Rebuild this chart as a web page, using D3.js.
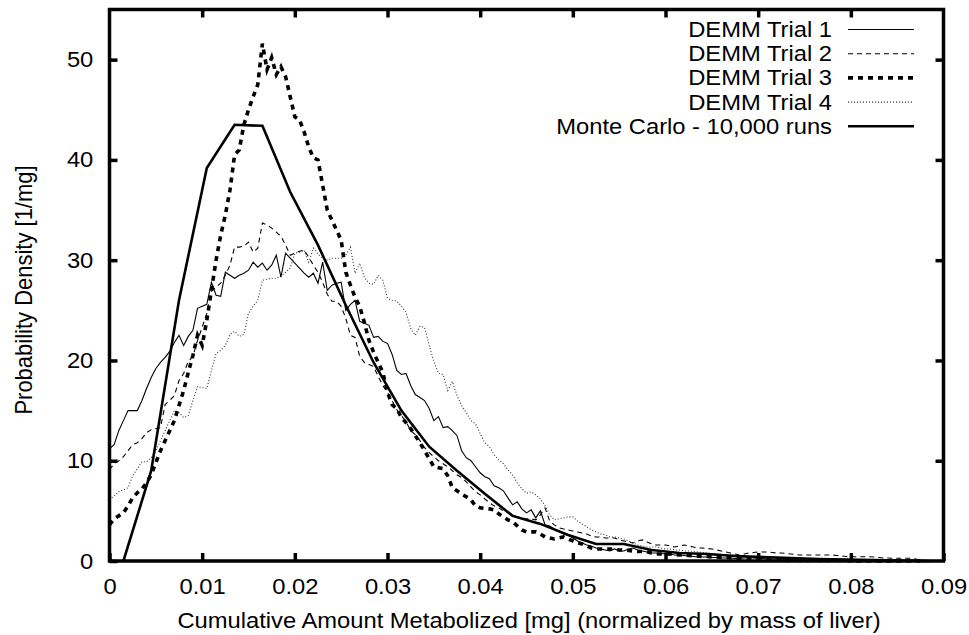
<!DOCTYPE html>
<html>
<head>
<meta charset="utf-8">
<script src="https://cdn.jsdelivr.net/npm/d3@7"></script>
<style>
  body { margin: 0; background: #fff; }
  svg { display: block; }
  text { font-family: "Liberation Sans", Arial, Helvetica, sans-serif; fill: #000; }
</style>
</head>
<body>
<div id="vis"></div>
<script>

// bins of the DEMM histograms, every 0.0005 mg from 0 to 0.0875
var binStep = 0.0005;

var trial1 = [
  11.2, 11.6, 13.0, 14.0, 15.0, 15.0, 15.0, 16.0, 17.2, 18.3,
  19.2, 19.8, 20.3, 20.9, 21.8, 22.5, 21.5, 22.4, 23.0, 25.2,
  25.4, 25.6, 27.8, 26.5, 26.4, 28.8, 28.5, 28.2, 28.5, 28.7,
  29.0, 29.8, 29.3, 29.7, 29.0, 29.5, 30.5, 28.3, 30.7, 30.2,
  29.7, 29.2, 28.7, 28.3, 28.7, 27.7, 29.8, 27.0, 27.5, 27.7,
  27.8, 25.0, 25.6, 26.0, 23.9, 23.7, 23.5, 22.3, 22.4, 21.9,
  21.7, 20.6, 19.0, 18.6, 18.7, 17.5, 16.6, 16.3, 16.0, 15.2,
  14.0, 14.4, 13.3, 13.4, 13.0, 12.5, 11.0, 10.3, 10.0, 9.4,
  8.8, 8.4, 8.2, 7.5, 7.3, 7.0, 6.3, 5.6, 5.9, 5.2,
  4.8, 5.1, 4.3, 5.0, 3.6, 3.5, 3.2, 3.0, 2.7, 2.6,
  2.3, 2.0, 1.8, 1.6, 1.5, 1.3, 1.2, 1.1, 1.0, 1.2,
  1.0, 1.0, 1.2, 1.3, 1.1, 1.0, 0.9, 0.8, 0.8, 0.75,
  0.7, 0.7, 0.6, 0.6, 0.55, 0.5, 0.45, 0.4, 0.4, 0.4,
  0.35, 0.35, 0.3, 0.3, 0.3, 0.25, 0.25, 0.3, 0.35, 0.3,
  0.25, 0.25, 0.2, 0.2, 0.2, 0.2, 0.15, 0.15, 0.15, 0.15,
  0.1, 0.1, 0.1, 0.1, 0.1, 0.1, 0.1, 0.1, 0.05, 0.05,
  0.05, 0.05, 0.05, 0.05, 0.05, 0.05, 0.05, 0.05, 0.05, 0.05,
  0, 0, 0, 0, 0, 0
];

var trial2 = [
  9.1, 9.7, 10.0, 10.4, 11.0, 11.6, 11.8, 12.2, 12.8, 13.1,
  13.2, 13.3, 15.6, 16.0, 16.5, 18.0, 18.7, 19.9, 20.4, 22.0,
  23.3, 24.7, 26.9, 27.3, 27.7, 28.5, 29.5, 31.3, 31.3, 31.4,
  31.8, 30.8, 31.2, 33.7, 33.5, 33.2, 32.8, 32.4, 31.5, 30.5,
  30.7, 30.9, 31.0, 30.3, 29.5, 28.8, 27.8, 26.6, 25.9, 25.9,
  25.4, 24.2, 22.5, 22.3, 20.4, 19.8, 19.6, 19.4, 18.4, 17.5,
  16.8, 16.0, 15.1, 14.5, 13.9, 13.0, 12.6, 12.0, 11.3, 10.8,
  10.4, 10.0, 9.7, 9.4, 9.0, 8.6, 8.3, 7.9, 7.4, 6.9,
  6.6, 6.2, 5.8, 5.5, 5.3, 5.0, 4.8, 4.6, 4.4, 4.3,
  4.2, 4.2, 4.1, 4.6, 5.3, 4.0, 3.6, 3.3, 3.2, 3.1,
  3.0, 2.9, 2.8, 2.7, 2.5, 2.4, 2.4, 2.3, 2.3, 2.3,
  2.1, 2.0, 1.9, 1.8, 2.0, 2.1, 1.9, 1.7, 1.6, 1.6,
  1.6, 1.5, 1.4, 1.5, 1.6, 1.5, 1.4, 1.3, 1.3, 1.25,
  1.2, 1.1, 1.0, 0.9, 0.8, 0.7, 0.6, 0.7, 0.8, 0.85,
  0.9, 0.9, 0.9, 0.85, 0.8, 0.8, 0.75, 0.7, 0.65, 0.6,
  0.6, 0.6, 0.6, 0.6, 0.6, 0.6, 0.6, 0.55, 0.5, 0.45,
  0.43, 0.43, 0.43, 0.43, 0.43, 0.4, 0.35, 0.3, 0.3, 0.27,
  0.27, 0.27, 0.27, 0.27, 0.2, 0.1
];

var trial3 = [
  3.6, 4.2, 4.5, 4.8, 5.5, 6.3, 6.8, 7.2, 7.8, 8.6,
  9.8, 11.0, 12.0, 13.0, 14.0, 15.5, 17.0, 18.8, 20.5, 22.5,
  21.5, 24.0, 27.0, 30.0, 32.5, 34.5, 37.0, 40.5, 41.0, 43.5,
  45.0, 46.3, 47.5, 51.6, 49.0, 50.2, 48.5, 49.3, 48.3, 46.3,
  44.3, 44.0, 42.8, 41.3, 40.2, 40.0, 37.5, 35.0, 34.0, 33.0,
  32.0, 28.8, 27.5, 26.3, 25.4, 23.8, 22.0, 20.8, 19.8, 18.8,
  16.8, 15.6, 15.2, 14.3, 13.8, 13.2, 12.5, 11.8, 11.0, 10.2,
  9.4, 9.3, 9.2, 8.5, 7.3, 7.0, 6.7, 6.4, 6.1, 5.5,
  5.3, 5.25, 5.2, 5.1, 4.7, 4.4, 4.1, 3.9, 3.5, 3.1,
  2.9, 2.9, 2.9, 2.7, 2.4, 2.3, 2.2, 2.3, 2.4, 2.2,
  2.0, 1.8, 1.7, 1.5, 1.3, 1.2, 1.2, 1.2, 1.2, 1.15,
  1.1, 1.1, 1.05, 1.0, 0.95, 0.95, 0.93, 0.8, 0.7, 0.7,
  0.7, 0.7, 0.65, 0.6, 0.6, 0.55, 0.5, 0.5, 0.45, 0.45,
  0.4, 0.4, 0.35, 0.35, 0.3, 0.3, 0.25, 0.25, 0.2, 0.2,
  0.15, 0.15, 0.1, 0.1, 0.1, 0.1, 0.05, 0.05, 0.05, 0.05,
  0.05, 0.05, 0.05, 0.05, 0.05, 0.05, 0.05, 0.05, 0.05, 0.05,
  0, 0, 0, 0, 0, 0, 0, 0, 0, 0,
  0, 0, 0, 0, 0, 0
];

var trial4 = [
  6.1, 6.5, 6.9, 7.1, 7.3, 8.5, 9.2, 9.9, 9.9, 10.3,
  11.0, 12.0, 13.0, 14.0, 15.0, 14.8, 14.3, 14.5, 16.0, 17.4,
  17.3, 17.2, 19.0, 20.7, 21.0, 21.5, 22.6, 22.9, 22.4, 22.6,
  24.7, 25.4, 26.0, 28.0, 28.1, 28.2, 28.2, 28.4, 28.8, 29.2,
  30.7, 30.8, 31.0, 29.8, 31.2, 30.6, 30.2, 30.0, 30.2, 30.2,
  30.2, 30.5, 31.3, 28.7, 29.7, 28.3, 27.7, 27.6, 28.5, 28.0,
  26.2, 26.0, 25.9, 25.4, 24.8, 23.2, 22.5, 23.4, 23.3, 21.5,
  19.9, 18.7, 18.6, 17.0, 17.9, 16.5, 15.5, 14.8, 14.0, 13.7,
  12.7, 11.8, 11.4, 10.6, 10.1, 9.7, 9.1, 8.6, 7.8, 7.2,
  6.75, 6.9, 6.6, 6.2, 5.5, 4.6, 4.1, 4.2, 4.3, 4.4,
  4.4, 4.0, 3.7, 3.4, 3.1, 2.9, 2.7, 2.6, 2.4, 2.4,
  2.3, 2.2, 2.0, 1.8, 1.6, 1.5, 1.4, 1.4, 1.4, 1.3,
  1.2, 1.2, 1.1, 1.1, 1.0, 1.0, 0.95, 0.9, 0.85, 0.8,
  0.75, 0.7, 0.65, 0.6, 0.6, 0.55, 0.5, 0.5, 0.45, 0.45,
  0.4, 0.4, 0.35, 0.35, 0.3, 0.3, 0.3, 0.25, 0.25, 0.25,
  0.2, 0.2, 0.2, 0.2, 0.2, 0.2, 0.2, 0.2, 0.2, 0.2,
  0.15, 0.15, 0.15, 0.15, 0.15, 0.1, 0.1, 0.1, 0.1, 0.1,
  0.1, 0.05, 0.05, 0.05, 0, 0
];

// Monte Carlo curve, coarser bins
var mcX = [0.0015, 0.0045, 0.0075, 0.0105, 0.0135, 0.0165, 0.0195, 0.0225, 0.0255, 0.0285,
           0.0315, 0.0345, 0.0375, 0.0405, 0.0435, 0.0465, 0.0495, 0.0525, 0.0555, 0.0585,
           0.0615, 0.0645, 0.0675, 0.0705, 0.0735, 0.0765, 0.0795, 0.0825, 0.0855, 0.0885];
var mcY = [0, 9.0, 26.0, 39.2, 43.5, 43.4, 36.8, 31.5, 25.5, 19.8,
           15.0, 11.4, 9.0, 6.7, 4.5, 3.7, 2.6, 1.7, 1.7, 1.1,
           0.8, 0.7, 0.5, 0.4, 0.3, 0.2, 0.15, 0.1, 0.05, 0.0];

var xTicks = [0, 0.01, 0.02, 0.03, 0.04, 0.05, 0.06, 0.07, 0.08, 0.09];
var yTicks = [0, 10, 20, 30, 40, 50];
var seriesNames = ['DEMM Trial 1', 'DEMM Trial 2', 'DEMM Trial 3', 'DEMM Trial 4', 'Monte Carlo - 10,000 runs'];

var width = 969;
var height = 635;
var plotLeft = 109.5, plotRight = 943.5, plotTop = 9.5, plotBottom = 561;
var fontSize = 22;
var stretch = 1.08; // the original's lettering is a bit wider than Arial

var styles = [
  { width: 1.1, dash: null, color: '#000' },
  { width: 1.1, dash: '5,4', color: '#000' },
  { width: 3.6, dash: '5,5', color: '#000' },
  { width: 1.1, dash: '1,2', color: '#333' },
  { width: 2.6, dash: null, color: '#000' }
];

var x = d3.scaleLinear().domain([0, 0.09]).range([plotLeft, plotRight]);
var y = d3.scaleLinear().domain([0, 55]).range([plotBottom, plotTop]);

var svg = d3.select('#vis')
  .append('svg')
  .attr('width', width)
  .attr('height', height);

function toPoints(values) {
  return values.map(function (v, i) { return [i * binStep, v]; });
}

var line = d3.line()
  .x(function (d) { return x(d[0]); })
  .y(function (d) { return y(d[1]); });

var seriesData = [
  toPoints(trial1),
  toPoints(trial2),
  toPoints(trial3),
  toPoints(trial4),
  mcX.map(function (v, i) { return [v, mcY[i]]; })
];

// draw curves (trial 4 first so the others sit above it)
[3, 0, 1, 4, 2].forEach(function (k) {
  svg.append('path')
    .datum(seriesData[k])
    .attr('d', line)
    .attr('fill', 'none')
    .attr('stroke', styles[k].color)
    .attr('stroke-width', styles[k].width)
    .attr('stroke-dasharray', styles[k].dash)
    .attr('stroke-linejoin', 'miter');
});

// places a label with the horizontal widening applied
function label(sel, tx, ty, anchor, rotate) {
  return sel.append('text')
    .attr('transform', 'translate(' + tx + ',' + ty + ')' + (rotate ? ' rotate(-90)' : '') +
      (rotate ? ' scale(1,' + stretch + ')' : ' scale(' + stretch + ',1)'))
    .attr('text-anchor', anchor)
    .style('font-size', fontSize + 'px');
}

// axes, ticks pointing inward
function styleAxis(g) {
  g.select('.domain').remove();
  g.selectAll('.tick line').attr('stroke', '#000').attr('stroke-width', 3.5);
  g.selectAll('.tick text')
    .style('font-size', fontSize + 'px')
    .style('font-family', '"Liberation Sans", Arial, sans-serif')
    .attr('fill', '#000')
    .attr('transform', 'scale(' + stretch + ',1)');
}

svg.append('g')
  .attr('transform', 'translate(0,' + plotBottom + ')')
  .call(d3.axisBottom(x).tickValues(xTicks).tickSize(-8).tickPadding(17)
    .tickFormat(function (d) { return d === 0 ? '0' : d3.format('.2f')(d); }))
  .call(styleAxis);

svg.append('g')
  .attr('transform', 'translate(0,' + plotTop + ')')
  .call(d3.axisTop(x).tickValues(xTicks.slice(1, -1)).tickSize(-8).tickFormat(''))
  .call(styleAxis);

svg.append('g')
  .attr('transform', 'translate(' + plotLeft + ',0)')
  .call(d3.axisLeft(y).tickValues(yTicks).tickSize(-8).tickPadding(15))
  .call(styleAxis);

svg.append('g')
  .attr('transform', 'translate(' + plotRight + ',0)')
  .call(d3.axisRight(y).tickValues(yTicks.slice(1)).tickSize(-8).tickFormat(''))
  .call(styleAxis);

svg.append('rect')
  .attr('x', plotLeft)
  .attr('y', plotTop)
  .attr('width', plotRight - plotLeft)
  .attr('height', plotBottom - plotTop)
  .attr('fill', 'none')
  .attr('stroke', '#000')
  .attr('stroke-width', 3.5);

// axis titles
label(svg, 529, 628, 'middle')
  .text('Cumulative Amount Metabolized [mg] (normalized by mass of liver)');

label(svg, 32, 290, 'middle', true)
  .text('Probability Density [1/mg]');

// legend
var legend = svg.append('g').attr('class', 'legend');
seriesNames.forEach(function (name, i) {
  var ry = 29.5 + i * 24.2;
  label(legend, 832, ry + 7.5, 'end').text(name);
  legend.append('line')
    .attr('x1', 848)
    .attr('x2', 914)
    .attr('y1', ry)
    .attr('y2', ry)
    .attr('stroke', styles[i].color)
    .attr('stroke-width', styles[i].width)
    .attr('stroke-dasharray', styles[i].dash);
});

</script>
</body>
</html>
